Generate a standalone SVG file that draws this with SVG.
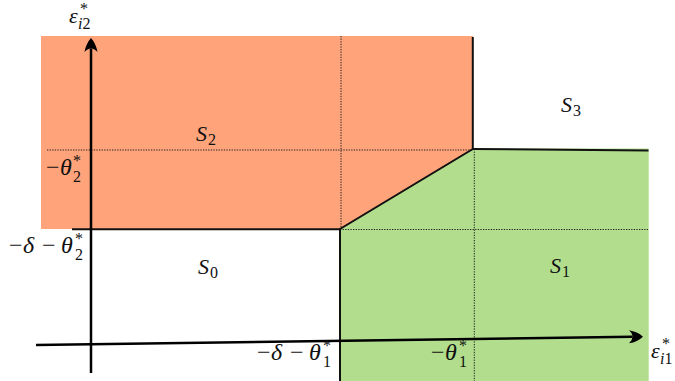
<svg xmlns="http://www.w3.org/2000/svg" width="675" height="381" viewBox="0 0 675 381">
  <style>
    .m { font-family: "Liberation Serif", "DejaVu Serif", serif; font-style: italic; fill: #111; }
    .r { font-family: "Liberation Serif", "DejaVu Serif", serif; font-style: normal; fill: #111; }
    .big { font-size: 24px; }
    .lab { font-size: 22px; }
    .sub { font-size: 16px; }
    .bnd { stroke: #111; stroke-width: 2; fill: none; stroke-linejoin: miter; }
    .dot { stroke: #222; stroke-width: 1; stroke-dasharray: 1.3 1.3; fill: none; }
    .axis { stroke: #000; stroke-width: 2.5; fill: none; }
  </style>
  <defs>
    <marker id="arr" markerUnits="userSpaceOnUse" viewBox="0 0 16 16" markerWidth="16" markerHeight="16" refX="5" refY="8" orient="auto">
      <path d="M15.5,8 Q10,3 1.5,1.5 Q5,4.5 5,8 Q5,11.5 1.5,14.5 Q10,13 15.5,8 Z" fill="#000"/>
    </marker>
  </defs>
  <rect width="675" height="381" fill="#fff"/>

  <g id="region-S2">
    <polygon points="41,36 473,36 473,149 340,229 41,229" fill="#FFA37A"/>
  </g>
  <g id="region-S1">
    <polygon points="340,229 473,148.5 648.7,148.5 648.7,381 340,381" fill="#B1DD8C"/>
  </g>

  <g id="guides">
    <line class="dot" x1="47" y1="150" x2="473" y2="150"/>
    <line class="dot" x1="341" y1="36" x2="341" y2="229"/>
    <line class="dot" x1="340" y1="229.5" x2="648" y2="229.5"/>
    <line class="dot" x1="474.3" y1="149" x2="474.3" y2="381"/>
  </g>

  <g id="boundaries">
    <line class="bnd" x1="72" y1="229.3" x2="340" y2="229.3"/>
    <polyline class="bnd" points="472.8,37 472.8,149 340,229 340,381"/>
    <line class="bnd" x1="472.8" y1="149" x2="648.5" y2="150.5"/>
  </g>

  <g id="connectors">
    <line class="axis" x1="91" y1="373" x2="91" y2="48.5" marker-end="url(#arr)"/>
    <line class="axis" x1="36" y1="345" x2="632.5" y2="336.8" marker-end="url(#arr)"/>
  </g>

  <g id="label-S2">
    <text class="m lab" x="196" y="141">S</text><text class="r sub" x="208" y="145">2</text>
  </g>
  <g id="label-S0">
    <text class="m lab" x="198" y="274">S</text><text class="r sub" x="210" y="278">0</text>
  </g>
  <g id="label-S1">
    <text class="m lab" x="550" y="273">S</text><text class="r sub" x="562" y="277">1</text>
  </g>
  <g id="label-S3">
    <text class="m lab" x="561" y="112">S</text><text class="r sub" x="573" y="116">3</text>
  </g>

  <g id="axis-label-y">
    <text class="m lab" x="69" y="23">ε</text>
    <text class="r sub" x="80" y="14">*</text>
    <text class="m sub" x="78" y="29">i<tspan class="r">2</tspan></text>
  </g>
  <g id="axis-label-x">
    <text class="m lab" x="651" y="358">ε</text>
    <text class="r sub" x="662" y="349">*</text>
    <text class="m sub" x="660" y="364">i<tspan class="r">1</tspan></text>
  </g>

  <g id="tick-theta2">
    <text class="r big" x="46" y="175">−</text>
    <text class="m big" x="60" y="175">θ</text>
    <text class="r sub" x="73" y="166">*</text>
    <text class="r sub" x="73" y="182">2</text>
  </g>
  <g id="tick-delta-theta2">
    <text class="r big" x="9" y="253">−</text>
    <text class="m big" x="23" y="253">δ</text>
    <text class="r big" x="42" y="253">−</text>
    <text class="m big" x="61" y="253">θ</text>
    <text class="r sub" x="75" y="244">*</text>
    <text class="r sub" x="75" y="260">2</text>
  </g>
  <g id="tick-delta-theta1">
    <text class="r big" x="257" y="360">−</text>
    <text class="m big" x="271" y="360">δ</text>
    <text class="r big" x="290" y="360">−</text>
    <text class="m big" x="309" y="360">θ</text>
    <text class="r sub" x="323" y="351">*</text>
    <text class="r sub" x="323" y="367">1</text>
  </g>
  <g id="tick-theta1">
    <text class="r big" x="431" y="360">−</text>
    <text class="m big" x="445" y="360">θ</text>
    <text class="r sub" x="459" y="351">*</text>
    <text class="r sub" x="459" y="367">1</text>
  </g>
</svg>
